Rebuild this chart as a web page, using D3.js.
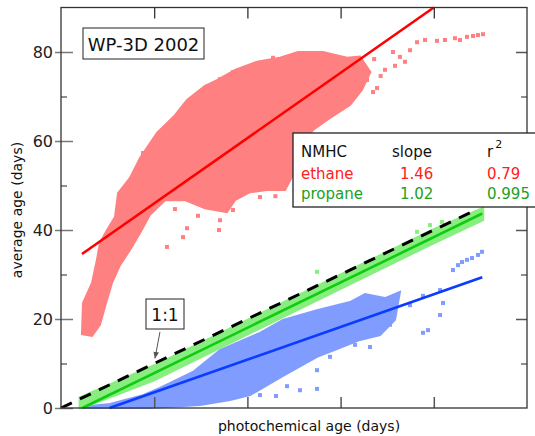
<!DOCTYPE html>
<html>
<head>
<meta charset="utf-8">
<script src="https://cdn.jsdelivr.net/npm/d3@7"></script>
<style>
  body { margin: 0; background: #fff; }
  svg { display: block; font-family: "DejaVu Sans", sans-serif; }
</style>
</head>
<body>
<div class="chart-area"></div>
<script>
// ---- Data (in data units: photochemical age, average age) ----
const yTicks = [0, 20, 40, 60, 80];
const yMinorTicks = [10, 30, 50, 70];
const xTicks = [10, 20, 30, 40];

// dense part of each scatter cloud, as an outline
const ethaneCloud = [
  [2.25, 16.6], [2.36, 23.6], [3.33, 28.1], [3.86, 33.3], [4.18, 37.1], [4.94, 40.0],
  [5.79, 42.9], [6.12, 48.3], [7.40, 51.7], [8.48, 56.2], [10.30, 61.8], [12.23, 65.8],
  [13.52, 69.2], [15.45, 72.4], [16.74, 73.7], [18.67, 76.0], [21.03, 77.8], [23.50, 78.7],
  [25.43, 80.0], [28.11, 80.0], [30.69, 78.7], [32.08, 79.0], [33.2, 75.5],
  [32.3, 71.5], [31.01, 68.1], [28.86, 65.2], [27.04, 62.5], [25.64, 58.0],
  [24.89, 52.4], [24.04, 49.0], [22.10, 49.0], [20.28, 48.5], [18.67, 46.7], [17.81, 44.0],
  [15.45, 44.9], [13.30, 46.7], [11.16, 46.7], [9.55, 43.4], [8.48, 39.3], [7.40, 35.5],
  [6.33, 32.1], [5.47, 28.1], [4.83, 23.6], [4.18, 18.7], [3.33, 16.2]
];
const ethanePoints = [
  [38.20, 82.2], [39.06, 82.7], [40.34, 82.5], [41.20, 82.7], [42.27, 83.1], [42.81, 82.7],
  [43.56, 83.4], [44.21, 83.6], [44.74, 83.8], [45.28, 84.0], [35.62, 80.0], [36.37, 78.9],
  [36.91, 77.8], [35.84, 76.9], [37.45, 80.4], [33.48, 71.0], [33.91, 71.9], [32.83, 73.7],
  [34.76, 76.0], [33.6, 78.4], [34.3, 74.6], [11.37, 36.2], [13.09, 38.4], [13.52, 40.4],
  [16.95, 40.0], [17.06, 42.2], [18.45, 44.5], [21.35, 47.4], [6.01, 32.1], [3.43, 25.8],
  [3.33, 18.2], [10.41, 61.3], [12.55, 64.7], [18.45, 75.5], [22.75, 78.7], [17.06, 73.9],
  [19.64, 74.6], [14.38, 69.2], [8.80, 57.3], [12.23, 44.7], [14.70, 43.2], [23.0, 47.6]
];

const propaneCloud = [
  [2.0, 2.4], [10, 9.6], [20, 19.8], [30, 30.0], [40, 40.2], [45.3, 45.0],
  [45.3, 42.2], [40, 37.0], [30, 26.8], [20, 16.5], [10, 6.2], [2.3, 0], [2.0, 0]
];
const propanePoints = [
  [27.47, 30.6], [39.59, 41.1], [40.88, 41.8], [38.20, 39.6]
];

const series3Cloud = [
  [2.04, 0.2], [5.26, 0.9], [8.80, 2.9], [10.62, 4.5], [14.16, 8.1], [17.06, 13.0],
  [21.35, 16.9], [23.82, 19.8], [27.47, 22.0], [31.01, 23.8], [32.62, 25.6], [34.76, 24.7],
  [36.37, 26.1], [35.84, 19.8], [34.23, 16.4], [32.08, 15.3], [29.94, 13.5], [27.47, 11.5],
  [23.82, 7.2], [20.28, 2.9], [18.13, 1.8], [14.91, 0.7], [9.55, 0], [2.04, 0]
];
const series3Points = [
  [35.30, 18.7], [38.84, 16.9], [39.38, 17.5], [40.67, 20.9], [40.99, 23.6], [42.06, 31.0],
  [42.60, 32.1], [43.03, 32.8], [43.56, 33.3], [44.10, 33.7], [44.74, 34.4], [45.17, 35.1],
  [40.67, 26.5], [38.84, 25.2], [37.45, 23.1], [25.64, 4.0], [27.47, 4.3], [23.07, 2.7],
  [24.25, 4.9], [21.35, 2.9], [33.15, 13.7], [31.55, 14.2], [27.47, 8.5], [28.86, 11.5]
];

// fitted lines (end points)
const ethaneFit = [[2.25, 34.6], [40.0, 90.0]];
const propaneFit = [[2.3, 0], [45.2, 43.7]];
const series3Fit = [[5.2, 0], [45.2, 29.4]];
const oneToOne = [[0, 0], [44.4, 44.4]];

// legend table
const legendNames = ["ethane", "propane"];
const legendSlopes = ["1.46", "1.02"];
const legendR2 = ["0.79", "0.995"];

// ---- Sizes ----
const svgWidth = 535, svgHeight = 436;
const plotLeft = 61, plotRight = 527, plotTop = 7.5, plotBottom = 408;

const svg = d3.select(".chart-area").append("svg")
    .attr("width", svgWidth)
    .attr("height", svgHeight);

const x = d3.scaleLinear().domain([0, 50]).range([plotLeft, plotRight]);
const y = d3.scaleLinear().domain([0, 90]).range([plotBottom, plotTop]);

const outline = d3.line().x(d => x(d[0])).y(d => y(d[1])).curve(d3.curveLinearClosed);
const straight = d3.line().x(d => x(d[0])).y(d => y(d[1]));

// ---- Scatter clouds ----
function drawCloud(cloud, points, col) {
    svg.append("path")
        .attr("d", outline(cloud))
        .attr("fill", col)
        .attr("stroke", col)
        .attr("stroke-width", 2);

    svg.append("g").selectAll("rect")
        .data(points)
        .join("rect")
        .attr("x", d => x(d[0]) - 2)
        .attr("y", d => y(d[1]) - 2)
        .attr("width", 4)
        .attr("height", 4)
        .attr("fill", col);
}

drawCloud(ethaneCloud, ethanePoints, "#ff8080");
drawCloud(series3Cloud, series3Points, "#809cff");
drawCloud(propaneCloud, propanePoints, "#88ee80");

// ---- Fit lines ----
[[ethaneFit, "#ff0000"], [series3Fit, "#0a3cff"], [propaneFit, "#10cc10"]].forEach(([pts, col]) => {
    svg.append("path")
        .attr("d", straight(pts))
        .attr("fill", "none")
        .attr("stroke", col)
        .attr("stroke-width", 2.6);
});

svg.append("path")
    .attr("d", straight(oneToOne))
    .attr("fill", "none")
    .attr("stroke", "#000")
    .attr("stroke-width", 3)
    .attr("stroke-dasharray", "12,9");

// ---- Axes ----
const frame = svg.append("g");

// left: labelled major ticks crossing the axis
frame.append("g")
    .attr("transform", `translate(${plotLeft},0)`)
    .call(d3.axisLeft(y).tickValues(yTicks).tickSize(6).tickPadding(2))
    .call(g => g.select(".domain").remove())
    .call(g => g.selectAll("line").attr("stroke", "#777").attr("stroke-width", 1.5))
    .call(g => g.selectAll("text").attr("fill", "#222").style("font-size", "16px")
        .style("font-family", "DejaVu Sans, sans-serif"));

frame.append("g")
    .attr("transform", `translate(${plotLeft},0)`)
    .call(d3.axisLeft(y).tickValues(yTicks).tickSize(-12).tickFormat(""))
    .call(g => g.select(".domain").remove())
    .call(g => g.selectAll("line").attr("stroke", "#777").attr("stroke-width", 1.5));

frame.append("g")
    .attr("transform", `translate(${plotLeft},0)`)
    .call(d3.axisLeft(y).tickValues(yMinorTicks).tickSize(-6).tickFormat(""))
    .call(g => g.select(".domain").remove())
    .call(g => g.selectAll("line").attr("stroke", "#222"));

// right
frame.append("g")
    .attr("transform", `translate(${plotRight},0)`)
    .call(d3.axisRight(y).tickValues(yTicks.slice(1)).tickSize(-11).tickFormat(""))
    .call(g => g.select(".domain").remove())
    .call(g => g.selectAll("line").attr("stroke", "#555").attr("stroke-width", 1.5));

frame.append("g")
    .attr("transform", `translate(${plotRight},0)`)
    .call(d3.axisRight(y).tickValues(yMinorTicks).tickSize(-6).tickFormat(""))
    .call(g => g.select(".domain").remove())
    .call(g => g.selectAll("line").attr("stroke", "#222"));

// bottom and top
frame.append("g")
    .attr("transform", `translate(0,${plotBottom})`)
    .call(d3.axisBottom(x).tickValues(xTicks).tickSize(-11).tickFormat(""))
    .call(g => g.select(".domain").remove())
    .call(g => g.selectAll("line").attr("stroke", "#555").attr("stroke-width", 1.5));

frame.append("g")
    .attr("transform", `translate(0,${plotTop})`)
    .call(d3.axisTop(x).tickValues(xTicks).tickSize(-11).tickFormat(""))
    .call(g => g.select(".domain").remove())
    .call(g => g.selectAll("line").attr("stroke", "#222").attr("stroke-width", 1.2));

// frame lines
frame.append("rect")
    .attr("x", plotLeft)
    .attr("y", plotTop)
    .attr("width", plotRight - plotLeft)
    .attr("height", plotBottom - plotTop)
    .attr("fill", "none")
    .attr("stroke", "#333")
    .attr("stroke-width", 1.3);

// axis titles
svg.append("text")
    .attr("x", 309)
    .attr("y", 431)
    .attr("text-anchor", "middle")
    .style("font-size", "14px")
    .attr("fill", "#111")
    .text("photochemical age (days)");

svg.append("text")
    .attr("transform", "translate(22,210) rotate(-90)")
    .attr("text-anchor", "middle")
    .style("font-size", "14px")
    .attr("fill", "#111")
    .text("average age (days)");

// ---- Title box ----
svg.append("rect")
    .attr("x", 83).attr("y", 28)
    .attr("width", 121).attr("height", 31)
    .attr("fill", "#fff")
    .attr("stroke", "#222");

svg.append("text")
    .attr("x", 143.5).attr("y", 51)
    .attr("text-anchor", "middle")
    .style("font-size", "18px")
    .attr("fill", "#111")
    .text("WP-3D 2002");

// ---- 1:1 label with arrow ----
const defs = svg.append("defs");
defs.append("marker")
    .attr("id", "arrow")
    .attr("viewBox", "0 0 10 10")
    .attr("refX", 9).attr("refY", 5)
    .attr("markerWidth", 7).attr("markerHeight", 7)
    .attr("orient", "auto")
    .append("path")
    .attr("d", "M0,1 L10,5 L0,9 Z")
    .attr("fill", "#555");

svg.append("line")
    .attr("x1", x(10.62)).attr("y1", y(17.1))
    .attr("x2", x(10.09)).attr("y2", y(11.2))
    .attr("stroke", "#555")
    .attr("stroke-width", 1)
    .attr("marker-end", "url(#arrow)");

svg.append("rect")
    .attr("x", 146).attr("y", 299)
    .attr("width", 38).attr("height", 30)
    .attr("fill", "#fff")
    .attr("stroke", "#222");

svg.append("text")
    .attr("x", 165).attr("y", 321)
    .attr("text-anchor", "middle")
    .style("font-size", "17px")
    .attr("fill", "#111")
    .text("1:1");

// ---- Legend table ----
const legend = svg.append("g").attr("transform", "translate(293,133)");

legend.append("rect")
    .attr("width", 260).attr("height", 74)
    .attr("fill", "#fff")
    .attr("stroke", "#222")
    .attr("stroke-width", 1.3);

legend.append("text").attr("x", 8).attr("y", 24).style("font-size", "15px").attr("fill", "#111").text("NMHC");
legend.append("text").attr("x", 99).attr("y", 24).style("font-size", "15px").attr("fill", "#111").text("slope");
const r2 = legend.append("text").attr("x", 194).attr("y", 24).style("font-size", "15px").attr("fill", "#111");
r2.append("tspan").text("r");
r2.append("tspan").attr("dx", 2).attr("dy", -9).style("font-size", "11px").text("2");

const legendColors = ["#ff2020", "#22a022"];
legend.selectAll("g.row")
    .data(legendNames)
    .join("g")
    .attr("class", "row")
    .attr("transform", (d, i) => `translate(0,${46 + i * 20})`)
    .each(function (d, i) {
        const row = d3.select(this);
        row.append("text").attr("x", 8).text(d);
        row.append("text").attr("x", 107).text(legendSlopes[i]);
        row.append("text").attr("x", 194).text(legendR2[i]);
        row.selectAll("text").style("font-size", "15px").attr("fill", legendColors[i]);
    });
</script>
</body>
</html>
